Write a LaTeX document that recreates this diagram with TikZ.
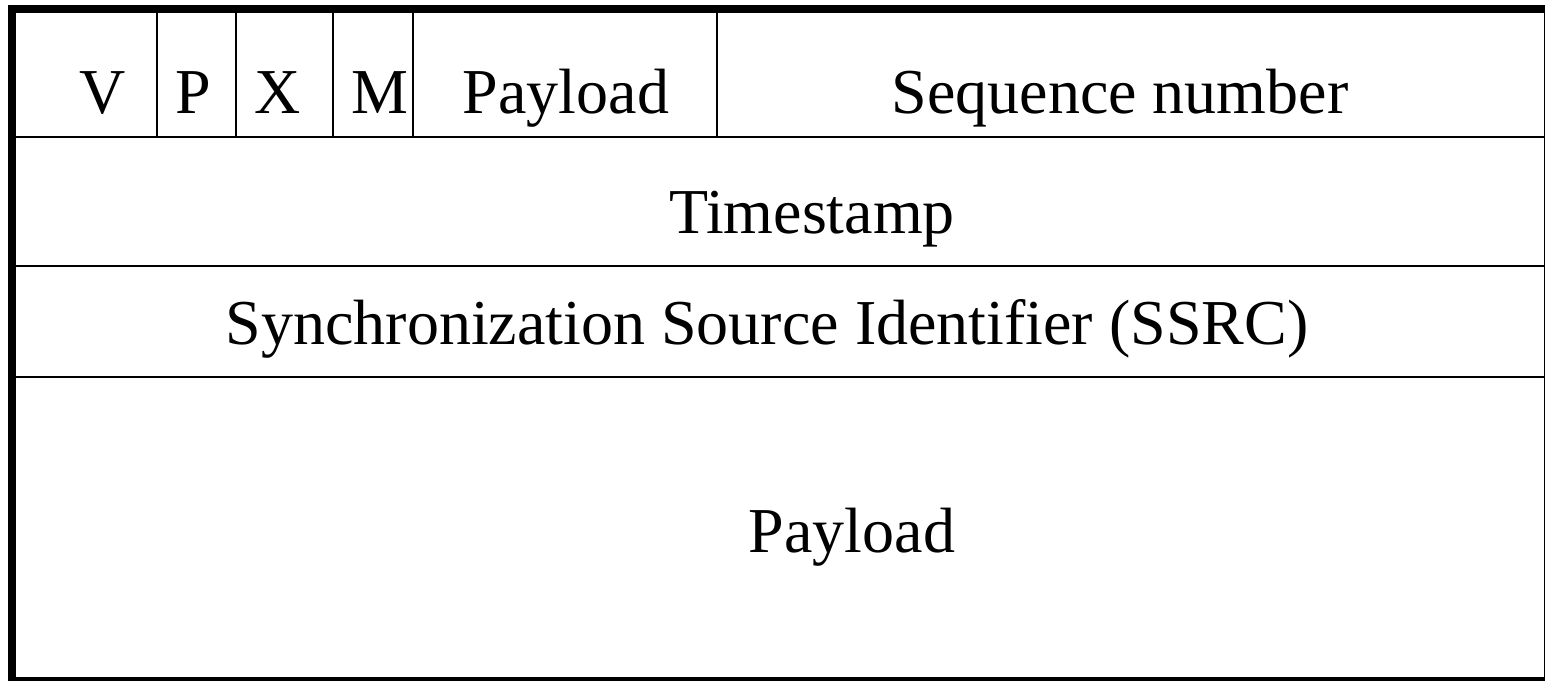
\documentclass[tikz,border=0pt]{standalone}
\usepackage{fontspec}
\setmainfont{Liberation Serif}

\begin{document}
\begin{tikzpicture}
		[
			x=0.5pt, y=-0.5pt,
			frame/.style={draw, line width=4pt},
			rule/.style={draw, line width=0.9pt},
			field/.style={anchor=base, inner sep=0pt, font=\fontsize{32}{38}\selectfont},
		]

		\useasboundingbox (0,0) rectangle (1545,680);
		\clip (0,0) rectangle (1545,680);

		% Outer frame
		\draw[frame] (12,9) rectangle (1547.5,681);

		% Row separators
		\foreach \y in {137, 266, 377}
			\draw[rule] (12,\y) -- (1547,\y);

		% Header field separators
		\foreach \x in {157, 236, 333, 413, 717}
			\draw[rule] (\x,9) -- (\x,137);

		% Field labels
		\foreach \name/\x/\y/\text in
		{
			ver/103/113/V,
			pad/193/113/P,
			ext/278/113/X,
			mark/380/113/M,
			ptype/566/113/Payload,
			seq/1120/113/{Sequence number},
			ts/812/233/Timestamp,
			ssrc/767/344/{Synchronization Source Identifier (SSRC)},
			data/852/552/Payload
		}
			\node[field] (\name) at (\x,\y) {\text};

		\end{tikzpicture}
\end{document}
